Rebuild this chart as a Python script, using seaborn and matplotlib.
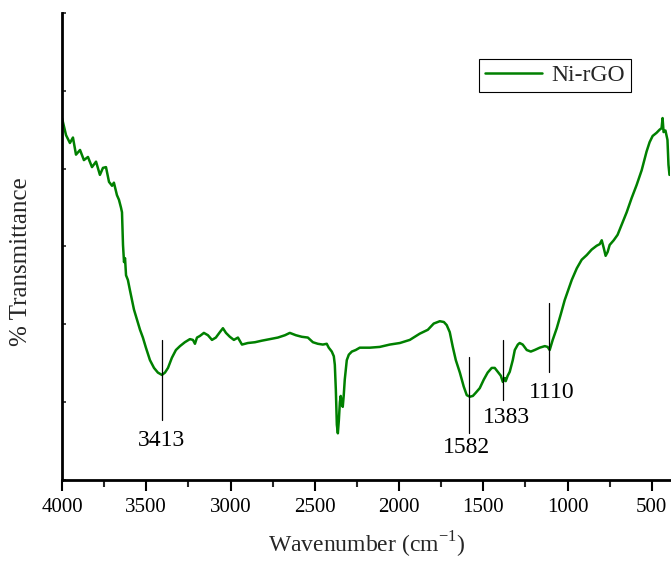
import matplotlib
matplotlib.use("Agg")
import matplotlib.pyplot as plt
import seaborn as sns
import pandas as pd
from matplotlib.ticker import MultipleLocator, NullFormatter

# ---- data ----
wavenumber = [4000, 3976, 3953, 3935, 3917, 3893, 3870, 3846, 3822, 3798, 3775, 3757,
              3739, 3721, 3703, 3692, 3674, 3662, 3650, 3644, 3638, 3632, 3626, 3620,
              3609, 3597, 3573, 3555, 3537, 3520, 3502, 3478, 3454, 3431, 3407, 3389,
              3371, 3348, 3324, 3300, 3271, 3241, 3223, 3211, 3199, 3182, 3158, 3134,
              3110, 3087, 3063, 3045, 3027, 3004, 2980, 2956, 2932, 2897, 2855, 2814,
              2766, 2719, 2677, 2648, 2612, 2577, 2541, 2511, 2482, 2452, 2429, 2417,
              2399, 2387, 2381, 2375, 2369, 2363, 2357, 2351, 2346, 2340, 2334, 2328,
              2322, 2310, 2298, 2280, 2257, 2233, 2173, 2114, 2055, 1995, 1936, 1877,
              1829, 1794, 1758, 1734, 1717, 1699, 1681, 1663, 1639, 1616, 1598, 1580,
              1562, 1545, 1521, 1497, 1474, 1450, 1432, 1414, 1396, 1384, 1373, 1367,
              1355, 1343, 1325, 1313, 1295, 1284, 1266, 1242, 1218, 1195, 1165, 1135,
              1118, 1106, 1088, 1064, 1040, 1017, 999, 975, 945, 916, 886, 857, 827,
              809, 797, 785, 774, 762, 750, 726, 703, 679, 649, 620, 590, 560, 531,
              513, 495, 472, 454, 442, 436, 430, 419, 407, 401, 395]
transmittance = [4.65, 4.43, 4.33, 4.40, 4.18, 4.24, 4.11, 4.15, 4.02, 4.09, 3.92, 4.01,
                 4.02, 3.83, 3.78, 3.82, 3.66, 3.60, 3.50, 3.44, 3.02, 2.80, 2.85, 2.63,
                 2.57, 2.44, 2.19, 2.06, 1.93, 1.83, 1.70, 1.54, 1.44, 1.38, 1.35, 1.38,
                 1.44, 1.57, 1.67, 1.72, 1.77, 1.81, 1.80, 1.75, 1.83, 1.85, 1.89, 1.86,
                 1.80, 1.83, 1.90, 1.95, 1.89, 1.84, 1.80, 1.83, 1.74, 1.76, 1.77, 1.79,
                 1.81, 1.83, 1.86, 1.89, 1.86, 1.84, 1.83, 1.77, 1.75, 1.74, 1.75, 1.70,
                 1.65, 1.59, 1.48, 1.16, 0.71, 0.60, 0.77, 1.00, 1.08, 0.98, 0.94, 1.09,
                 1.29, 1.54, 1.61, 1.65, 1.67, 1.70, 1.70, 1.71, 1.74, 1.76, 1.80, 1.88,
                 1.93, 2.01, 2.04, 2.03, 1.99, 1.90, 1.71, 1.54, 1.38, 1.20, 1.09, 1.07,
                 1.08, 1.12, 1.18, 1.29, 1.38, 1.44, 1.44, 1.39, 1.34, 1.26, 1.31, 1.27,
                 1.34, 1.39, 1.54, 1.67, 1.74, 1.76, 1.74, 1.67, 1.65, 1.67, 1.70, 1.72,
                 1.71, 1.67, 1.80, 1.95, 2.13, 2.31, 2.42, 2.57, 2.72, 2.83, 2.89, 2.96, 3.01,
                 3.03, 3.08, 2.98, 2.88, 2.93, 3.02, 3.08, 3.15, 3.28, 3.44, 3.62, 3.79, 3.98, 4.22,
                 4.34, 4.42, 4.46, 4.50, 4.52, 4.65, 4.47, 4.49, 4.37, 4.05, 3.92]

series_name = "Ni-rGO"
peak_labels = ["3413", "1582", "1383", "1110"]
peak_positions = [3407, 1586, 1384, 1112]
marker_bottom = [0.77, 0.61, 1.03, 1.39]
marker_top = [1.80, 1.58, 1.80, 2.28]
label_x = [3407, 1598, 1361, 1094]
label_y = [0.51, 0.42, 0.80, 1.13]
x_ticks = [4000, 3500, 3000, 2500, 2000, 1500, 1000, 500]

df = pd.DataFrame({"Wavenumber": wavenumber, "T": transmittance,
                   "Sample": [series_name] * len(wavenumber)})

sns.set_theme(style="white")
plt.rcParams["font.family"] = ["Liberation Serif", "DejaVu Serif"]
plt.rcParams["mathtext.fontset"] = "custom"
plt.rcParams["mathtext.rm"] = "Liberation Serif"

fig = plt.figure(figsize=(6.71, 5.62), dpi=100)
ax = fig.add_axes([0.0924, 0.1459, 0.9066, 0.831])

sns.lineplot(data=df, x="Wavenumber", y="T", hue="Sample", palette=["#008000"],
             sort=False, linewidth=1.8, ax=ax, estimator=None)

for px, yb, yt in zip(peak_positions, marker_bottom, marker_top):
    ax.plot([px, px], [yb, yt], color="black", linewidth=0.9)
for lab, lx, ly in zip(peak_labels, label_x, label_y):
    ax.text(lx, ly, lab, ha="center", va="center", fontsize=17, color="black")

ax.set_xlim(4000, 390)
ax.set_ylim(0, 6)
ax.set_xticks(x_ticks)
ax.xaxis.set_minor_locator(MultipleLocator(250))
ax.yaxis.set_major_locator(MultipleLocator(1))
ax.yaxis.set_major_formatter(NullFormatter())
ax.tick_params(axis="x", which="major", direction="out", length=8, width=1.5,
               labelsize=15, colors="black", bottom=True, pad=5)
ax.tick_params(axis="x", which="minor", direction="out", length=5, width=1.5, bottom=True)
ax.tick_params(axis="y", which="major", direction="in", length=3, width=1.2, left=True)

for side in ["top", "right"]:
    ax.spines[side].set_visible(False)
for side in ["left", "bottom"]:
    ax.spines[side].set_visible(True)
    ax.spines[side].set_color("black")
    ax.spines[side].set_linewidth(2)

ax.set_xlabel("Wavenumber (cm$^{\\mathrm{-1}}$)", fontsize=17, labelpad=9)
ax.set_ylabel("% Transmittance", fontsize=18)
ax.yaxis.set_label_coords(-0.05, 0.468)

leg = ax.legend(loc="upper right", bbox_to_anchor=(0.935, 0.902), fontsize=17,
                frameon=True, fancybox=False, edgecolor="black", framealpha=1,
                handlelength=2.4, borderpad=0.25, handletextpad=0.4, borderaxespad=0)
leg.get_frame().set_linewidth(0.8)

fig.savefig("out.png", dpi=100)
